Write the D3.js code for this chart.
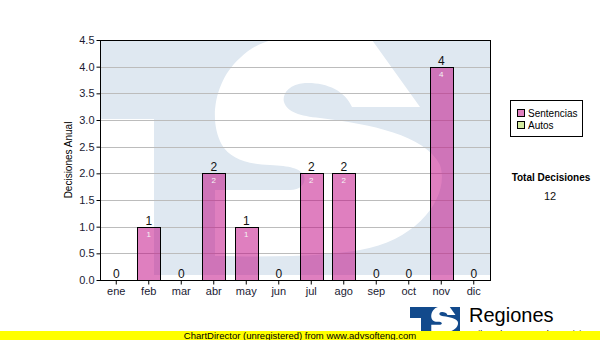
<!DOCTYPE html>
<html>
<head>
<meta charset="utf-8">
<script src="https://cdn.jsdelivr.net/npm/d3@7"></script>
<style>
  body { margin: 0; background: #fff; }
  svg { display: block; font-family: "Liberation Sans", Arial, sans-serif; }
</style>
</head>
<body>
<svg id="chart" width="600" height="340"></svg>
<script>
const months = ["ene", "feb", "mar", "abr", "may", "jun", "jul", "ago", "sep", "oct", "nov", "dic"];
const sentencias = [0, 1, 0, 2, 1, 0, 2, 2, 0, 0, 4, 0];
const autos = [0, 0, 0, 0, 0, 0, 0, 0, 0, 0, 0, 0];
const seriesNames = ["Sentencias", "Autos"];
const seriesColors = ["rgba(192,0,128,0.5)", "#d4eca0"];
const yMax = 4.5;

const svg = d3.select("#chart");
const plotL = 100, plotR = 490, plotT = 40, plotB = 280;

const x = d3.scaleBand().domain(months).range([plotL, plotR])
  .paddingInner(0.28).paddingOuter(0.14);
const y = d3.scaleLinear().domain([0, yMax]).range([plotB, plotT]);
const yTicks = y.ticks(9);

// watermark logo behind the plot
svg.append("clipPath").attr("id", "plotClip")
  .append("rect").attr("x", plotL).attr("y", plotT)
  .attr("width", plotR - plotL).attr("height", plotB - plotT);

const sPath = "M273,40 L372,40 L420,107 L352,107 C345,90 325,82 305,83 C288,84 282,95 284,102 " +
  "C287,112 300,116 320,118 C370,124 425,135 440,165 C450,195 420,240 360,250 " +
  "C320,257 260,257 215,256 L215,190 L290,190 C302,190 306,182 304,176 " +
  "C300,168 290,166 270,165 C245,164 230,158 222,145 C208,120 215,80 240,58 " +
  "C250,48 262,42 273,40 Z";

const wm = svg.append("g").attr("clip-path", "url(#plotClip)");
wm.append("path")
  .attr("d", "M60,40 L495,40 L495,275 L154,275 L154,119 L60,119 Z")
  .attr("fill", "#dfe8f1");
wm.append("path").attr("d", sPath).attr("fill", "#fff");

// grid
svg.append("g").selectAll("line")
  .data(yTicks.filter(d => d > 0 && d < yMax))
  .join("line")
    .attr("x1", plotL).attr("x2", plotR)
    .attr("y1", d => Math.round(y(d)) + 0.5).attr("y2", d => Math.round(y(d)) + 0.5)
    .attr("stroke", "#bcbcbc");

// bars
const totals = months.map((m, i) => sentencias[i] + autos[i]);

svg.append("g").selectAll("rect")
  .data(months.filter((m, i) => sentencias[i] > 0))
  .join("rect")
    .attr("x", m => Math.round(x(m)) + 0.5)
    .attr("y", m => Math.round(y(sentencias[months.indexOf(m)])) + 0.5)
    .attr("width", Math.round(x.bandwidth()))
    .attr("height", m => Math.round(y(0)) - Math.round(y(sentencias[months.indexOf(m)])))
    .attr("fill", seriesColors[0])
    .attr("stroke", "#000");

// frame
svg.append("rect")
  .attr("x", plotL + 0.5).attr("y", plotT + 0.5)
  .attr("width", plotR - plotL).attr("height", plotB - plotT)
  .attr("fill", "none").attr("stroke", "#000");

// axes
const yAxis = svg.append("g").attr("transform", `translate(${plotL + 0.5},0)`)
  .call(d3.axisLeft(y).tickValues(yTicks).tickFormat(d3.format(".1f")).tickSize(4).tickPadding(2));
yAxis.select(".domain").remove();
yAxis.selectAll("text").attr("font-size", 11).attr("fill", "#1a1a33").attr("font-family", null);

const xAxis = svg.append("g").attr("transform", `translate(0,${plotB + 0.5})`)
  .call(d3.axisBottom(x).tickSize(4).tickPadding(3));
xAxis.select(".domain").remove();
xAxis.selectAll("text").attr("font-size", 11).attr("fill", "#1a1a33").attr("font-family", null);

svg.append("text")
  .attr("transform", `translate(72,160) rotate(-90)`)
  .attr("text-anchor", "middle").attr("font-size", 10).attr("fill", "#000")
  .text("Decisiones Anual");

// value labels
svg.append("g").selectAll("text")
  .data(months)
  .join("text")
    .attr("x", m => x(m) + x.bandwidth() / 2)
    .attr("y", (m, i) => y(totals[i]) - 2)
    .attr("text-anchor", "middle").attr("font-size", 12).attr("fill", "#111")
    .text((m, i) => totals[i]);

svg.append("g").selectAll("text")
  .data(months.filter((m, i) => sentencias[i] > 0))
  .join("text")
    .attr("x", m => x(m) + x.bandwidth() / 2)
    .attr("y", m => y(sentencias[months.indexOf(m)]) + 10)
    .attr("text-anchor", "middle").attr("font-size", 8).attr("fill", "#f4f4f4")
    .text(m => sentencias[months.indexOf(m)]);

// legend
const legend = svg.append("g").attr("transform", "translate(510,100)");
legend.append("rect").attr("x", 0.5).attr("y", 0.5).attr("width", 72).attr("height", 36)
  .attr("fill", "#fff").attr("stroke", "#000");
const item = legend.selectAll("g.item").data(seriesNames).join("g")
  .attr("class", "item")
  .attr("transform", (d, i) => `translate(7,${9 + i * 12})`);
item.append("rect").attr("x", 0.5).attr("y", 0.5).attr("width", 7).attr("height", 7)
  .attr("fill", (d, i) => i === 0 ? "#df7fbf" : seriesColors[1]).attr("stroke", "#000");
item.append("text").attr("x", 11).attr("y", 8).attr("font-size", 10).attr("fill", "#000")
  .text(d => d);

// total
svg.append("text").attr("x", 551).attr("y", 181).attr("text-anchor", "middle")
  .attr("font-size", 10).attr("font-weight", "bold").text("Total Decisiones");
svg.append("text").attr("x", 550).attr("y", 200).attr("text-anchor", "middle")
  .attr("font-size", 11).attr("fill", "#111").text(d3.sum(sentencias) + d3.sum(autos));

// small logo at bottom
const logo = svg.append("g");
logo.append("path").attr("d", "M410,307 L460,307 L460,334 L421,334 L421,318 L410,318 Z")
  .attr("fill", "#124a8c");
logo.append("path").attr("d", sPath).attr("fill", "#fff")
  .attr("transform", "translate(405.9,302.3) scale(0.118)");
svg.append("text").attr("x", 469).attr("y", 322).attr("font-size", 20).attr("fill", "#000")
  .text("Regiones");
svg.append("text").attr("x", 470).attr("y", 337).attr("font-size", 9).attr("fill", "#000")
  .text("Tribunal Supremo de Justicia");

// unregistered banner
svg.append("rect").attr("x", 0).attr("y", 331).attr("width", 600).attr("height", 9).attr("fill", "#ffff00");
svg.append("text").attr("x", 300).attr("y", 339).attr("text-anchor", "middle")
  .attr("font-size", 9.5).attr("fill", "#000")
  .text("ChartDirector (unregistered) from www.advsofteng.com");
</script>
</body>
</html>
